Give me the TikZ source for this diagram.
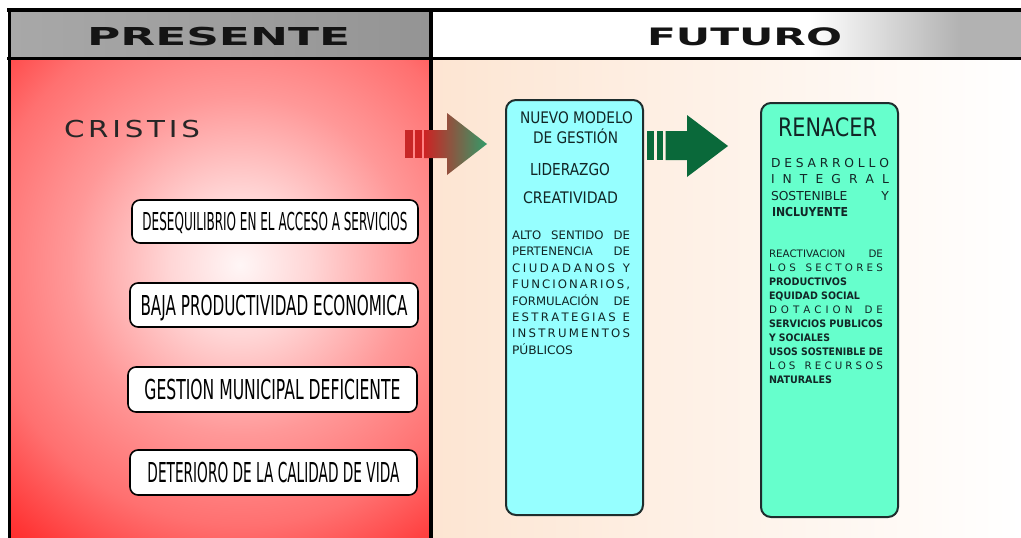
\documentclass[tikz,border=0pt]{standalone}
\usepackage{fontspec}
\setmainfont{DejaVu Sans}
\usepackage{graphicx}
\definecolor{rg0}{RGB}{255,246,246}
\definecolor{rg1}{RGB}{255,214,214}
\definecolor{rg2}{RGB}{255,152,152}
\definecolor{rg3}{RGB}{255,112,112}
\definecolor{rg4}{RGB}{255,55,55}
\definecolor{rg5}{RGB}{255,20,20}
\definecolor{peach}{RGB}{253,229,210}
\definecolor{hgL}{RGB}{168,168,168}
\definecolor{hgR}{RGB}{148,148,148}
\definecolor{hgR2}{RGB}{178,178,178}
\definecolor{cyanfill}{RGB}{150,255,255}
\definecolor{greenfill}{RGB}{102,255,204}
\definecolor{boxborder}{RGB}{30,45,45}
\definecolor{txt}{RGB}{18,38,38}
\definecolor{arrred}{RGB}{205,35,35}
\definecolor{arrbrown}{RGB}{135,85,60}
\definecolor{arrgreen}{RGB}{50,155,105}
\definecolor{darkgreen}{RGB}{10,105,58}
\pgfdeclareradialshading{redglow}{\pgfpointorigin}{color(0bp)=(rg0); color(4.4bp)=(rg1); color(10.6bp)=(rg2); color(16.25bp)=(rg3); color(21.25bp)=(rg4); color(25bp)=(rg5); color(50bp)=(rg5)}
\newcommand\capbox[1]{\raisebox{0pt}[\fontcharht\font`H][0pt]{#1}}
\newcommand\fitcap[3]{\resizebox{#1pt}{#2pt}{\capbox{#3}}}
\newcommand\jl[2]{\makebox[#1pt][s]{#2}}
\newcommand\nl[2]{\resizebox{#1pt}{\height}{#2}}
\tikzset{
  lbl/.style={anchor=base west, inner sep=0pt, outer sep=0pt},
  probbox/.style={draw=black, line width=1.6pt, rounded corners=8pt, fill=white, inner sep=0pt, font=\fontsize{26}{26}\selectfont, text=black},
  cbox/.style={draw=boxborder, line width=2pt, rounded corners=10pt, fill=cyanfill, inner sep=0pt},
  gbox/.style={draw=boxborder, line width=2pt, rounded corners=10pt, fill=greenfill, inner sep=0pt},
  frame/.style={draw=black, line width=3.2pt},
}
\begin{document}
\begin{tikzpicture}[x=1pt,y=-1pt]
\useasboundingbox (0,0) rectangle (1021,538);
\fill[white] (0,0) rectangle (1021,538);
% left panel
\begin{scope}
\clip (10,59) rectangle (431,538);
\shade[shading=redglow] (240,265) circle (400pt);
\end{scope}
% right panel
\shade[left color=peach, right color=white] (431,59) rectangle (1021,538);
% headers
\shade[left color=hgL, middle color=white, right color=hgR] (10,10) rectangle (431,58);
\fill[white] (431,10) rectangle (810,58);
\shade[left color=white, right color=hgR2] (810,10) rectangle (960,58);
\fill[hgR2] (960,10) rectangle (1021,58);
% frame
\draw[frame] (7,10) -- (1021,10);
\draw[frame] (7,58.5) -- (1021,58.5);
\draw[frame] (9.5,8.5) -- (9.5,538);
\draw[frame, line width=4pt] (431.3,8.5) -- (431.3,538);
% header titles
\node[lbl, font=\bfseries\fontsize{24}{24}\selectfont, text=black!92] (hpres) at (87,45) {\fitcap{263}{18}{PRESENTE}};
\node[lbl, font=\bfseries\fontsize{24}{24}\selectfont, text=black!92] (hfut) at (647,45.5) {\fitcap{195}{17.5}{FUTURO}};
% CRISTIS
\node[lbl, font=\fontsize{23.3}{24}\selectfont, text=black!85] (crisis) at (64,137) {\fitcap{136}{17}{\makebox[108pt][s]{C\hfill R\hfill I\hfill S\hfill T\hfill I\hfill S}}};
% problem boxes
\node[probbox, minimum width=286pt, minimum height=43pt] (p1) at (275,221.5) {\fitcap{265}{18}{DESEQUILIBRIO EN EL ACCESO A SERVICIOS}};
\node[probbox, minimum width=288pt, minimum height=44pt] (p2) at (274,305) {\fitcap{267}{20}{BAJA PRODUCTIVIDAD ECONOMICA}};
\node[probbox, minimum width=289pt, minimum height=45pt] (p3) at (272.5,389.5) {\fitcap{256}{20}{GESTION MUNICIPAL DEFICIENTE}};
\node[probbox, minimum width=287pt, minimum height=45pt] (p4) at (273.5,472.5) {\fitcap{252}{20}{DETERIORO DE LA CALIDAD DE VIDA}};
% arrow 1
\fill[arrred!110!red] (405,130) rectangle (412.5,158);
\fill[arrred] (415,130) rectangle (422,158);
\shade[left color=arrred, middle color=arrbrown, right color=arrgreen]
  (424,130) -- (447,130) -- (447,113) -- (487,144) -- (447,175) -- (447,158) -- (424,158) -- cycle;
% boxes
\node[cbox, minimum width=137pt, minimum height=415pt] (modelo) at (574.5,307.5) {};
\node[gbox, minimum width=137pt, minimum height=414pt] (renacer) at (829.5,310) {};
% arrow 2
\fill[darkgreen] (647,131) rectangle (653.5,160);
\fill[darkgreen] (657,131) rectangle (663,160);
\fill[darkgreen] (665.5,131) -- (687,131) -- (687,115) -- (728,146) -- (687,177) -- (687,160) -- (665.5,160) -- cycle;
% cyan box texts
\begin{scope}[every node/.style={lbl, text=txt, font=\fontsize{16}{16}\selectfont}]
\node (m1) at (520,123.3) {\fitcap{113}{11.6}{NUEVO MODELO}};
\node (m2) at (533,143.3) {\fitcap{85}{11.6}{DE GESTIÓN}};
\node (m3) at (530,175) {\fitcap{80}{12}{LIDERAZGO}};
\node (m4) at (523,203.3) {\fitcap{95}{11.6}{CREATIVIDAD}};
\end{scope}
\begin{scope}[every node/.style={lbl, text=txt, font=\fontsize{11.7}{14}\selectfont}]
\node (a1) at (512,239.3) {\jl{118}{ALTO SENTIDO DE}};
\node (a2) at (512,255.7) {\jl{118}{PERTENENCIA DE}};
\node (a3) at (512,272.2) {\jl{118}{C\hfill I\hfill U\hfill D\hfill A\hfill D\hfill A\hfill N\hfill O\hfill S\hfill\hfill\hfill Y}};
\node (a4) at (512,288.6) {\jl{118}{F\hfill U\hfill N\hfill C\hfill I\hfill O\hfill N\hfill A\hfill R\hfill I\hfill O\hfill S\hfill ,}};
\node (a5) at (512,305) {\jl{118}{FORMULACIÓN DE}};
\node (a6) at (512,321.4) {\jl{118}{E\hfill S\hfill T\hfill R\hfill A\hfill T\hfill E\hfill G\hfill I\hfill A\hfill S\hfill\hfill\hfill E}};
\node (a7) at (512,337.9) {\jl{118}{I\hfill N\hfill S\hfill T\hfill R\hfill U\hfill M\hfill E\hfill N\hfill T\hfill O\hfill S}};
\node (a8) at (512,354.3) {\nl{61}{PÚBLICOS}};
\end{scope}
% green box texts
\node[lbl, text=txt, font=\fontsize{26}{26}\selectfont] (r0) at (778,136.7) {\fitcap{99}{18.5}{RENACER}};
\begin{scope}[every node/.style={lbl, text=txt, font=\fontsize{12.3}{14}\selectfont}]
\node (r1) at (771,167.3) {\jl{118}{D\hfill E\hfill S\hfill A\hfill R\hfill R\hfill O\hfill L\hfill L\hfill O}};
\node (r2) at (771,183.5) {\jl{118}{I\hfill N\hfill T\hfill E\hfill G\hfill R\hfill A\hfill L}};
\node (r3) at (771,200) {\jl{118}{SOSTENIBLE Y}};
\node[font=\bfseries\fontsize{12.3}{14}\selectfont] (r4) at (772,216.5) {\nl{76}{INCLUYENTE}};
\end{scope}
\begin{scope}[every node/.style={lbl, text=txt, font=\fontsize{10.3}{12}\selectfont}, bnl/.style={font=\bfseries\fontsize{10.3}{12}\selectfont}]
\node (s1) at (769,257.3) {\jl{114}{REACTIVACION DE}};
\node (s2) at (769,271.4) {\jl{114}{L\hfill O\hfill S\hfill\hfill\hfill S\hfill E\hfill C\hfill T\hfill O\hfill R\hfill E\hfill S}};
\node[bnl] (s3) at (769,285.4) {\nl{78}{PRODUCTIVOS}};
\node[bnl] (s4) at (769,299.5) {\nl{91}{EQUIDAD SOCIAL}};
\node (s5) at (769,313.5) {\jl{114}{D\hfill O\hfill T\hfill A\hfill C\hfill I\hfill O\hfill N\hfill\hfill\hfill D\hfill E}};
\node[bnl] (s6) at (769,327.5) {\nl{114}{SERVICIOS PUBLICOS}};
\node[bnl] (s7) at (769,341.6) {\nl{61}{Y SOCIALES}};
\node[bnl] (s8) at (769,355.6) {\nl{114}{USOS SOSTENIBLE DE}};
\node (s9) at (769,369.7) {\jl{114}{L\hfill O\hfill S\hfill\hfill\hfill R\hfill E\hfill C\hfill U\hfill R\hfill S\hfill O\hfill S}};
\node[bnl] (s10) at (769,383.7) {\nl{63}{NATURALES}};
\end{scope}
\end{tikzpicture}
\end{document}
